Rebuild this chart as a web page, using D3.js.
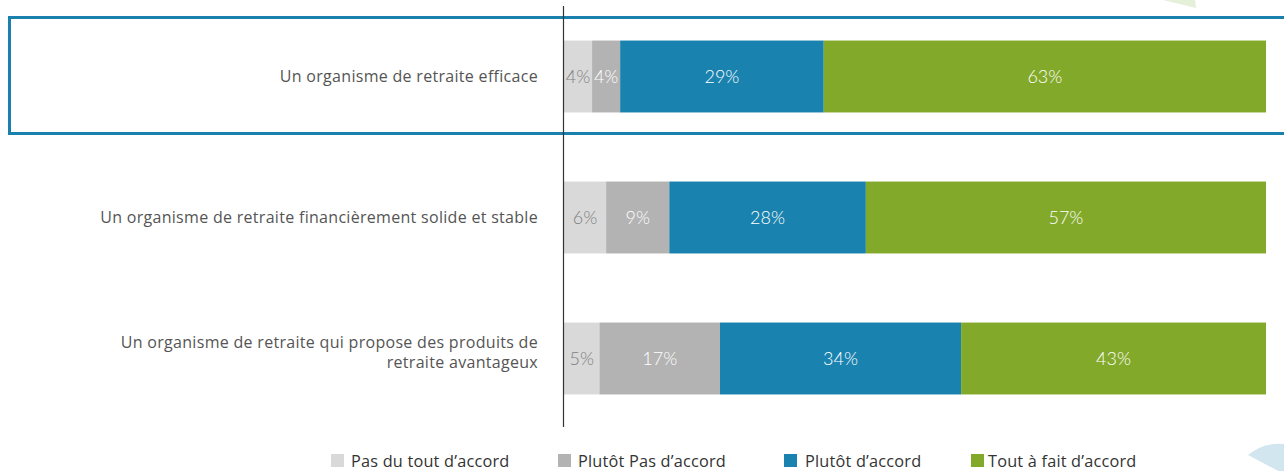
<!DOCTYPE html>
<html>
<head>
<meta charset="utf-8">
<script src="https://cdn.jsdelivr.net/npm/d3@7"></script>
<style>
  body { margin: 0; background: #fff; }
  svg { display: block; }
</style>
</head>
<body>
<div id="chart"></div>
<script>
// categories (top to bottom)
const categories = [
  ['Un organisme de retraite efficace'],
  ['Un organisme de retraite financièrement solide et stable'],
  ['Un organisme de retraite qui propose des produits de', 'retraite avantageux']
];
const keys = ['Pas du tout d’accord', 'Plutôt Pas d’accord', 'Plutôt d’accord', 'Tout à fait d’accord'];
const pasDuTout = [4, 6, 5];
const plutotPas = [4, 9, 17];
const plutot = [29, 28, 34];
const toutAFait = [63, 57, 43];
const colors = ['#d9d9d9', '#b3b3b3', '#1a82ae', '#82a92a'];

const W = 1284, H = 471;
const svg = d3.select('#chart').append('svg')
  .attr('width', W).attr('height', H);

// decorative shapes
svg.append('path').attr('d', 'M1163,0 L1195,0 L1196,8 Z').attr('fill', '#e6efd7');
svg.append('path').attr('d', 'M1248,455 L1284,474 L1284,444 Q1264,442 1248,455 Z').attr('fill', '#d2e6ef');

const rows = categories.map((c, i) => ({
  label: c,
  [keys[0]]: pasDuTout[i],
  [keys[1]]: plutotPas[i],
  [keys[2]]: plutot[i],
  [keys[3]]: toutAFait[i]
}));

const stacked = d3.stack().keys(keys).offset(d3.stackOffsetExpand)(rows);

const x = d3.scaleLinear().domain([0, 1]).range([564, 1266]);
const y = d3.scaleBand().domain(d3.range(rows.length)).range([0, 423]).paddingInner(0.49).paddingOuter(0.245);
const yOff = 6;

// highlight box round first row
svg.append('rect')
  .attr('x', 9.5).attr('y', 17.5)
  .attr('width', W + 10).attr('height', 116)
  .attr('fill', 'none').attr('stroke', '#1a80ad').attr('stroke-width', 3);

const g = svg.append('g').attr('transform', `translate(0,${yOff})`);

stacked.forEach((layer, k) => {
  g.selectAll(null).data(layer).enter().append('rect')
    .attr('x', d => x(d[0]))
    .attr('y', (d, i) => y(i))
    .attr('width', d => x(d[1]) - x(d[0]))
    .attr('height', y.bandwidth())
    .attr('fill', colors[k]);

  g.selectAll(null).data(layer).enter().append('text')
    .attr('x', d => (x(d[0]) + x(d[1])) / 2)
    .attr('y', (d, i) => y(i) + y.bandwidth() / 2)
    .attr('dy', '0.35em')
    .attr('text-anchor', 'middle')
    .style('font-family', 'Lato')
    .style('font-weight', 300)
    .style('font-size', '18px')
    .attr('fill', k === 0 ? '#808080' : '#fff')
    .text(d => d.data[keys[k]] + '%');
});

// category labels (two-line one sits a bit high, as in the original)
rows.forEach((r, i) => {
  const t = g.append('text')
    .attr('text-anchor', 'end')
    .style('font-family', 'Open Sans')
    .style('font-size', '16px')
    .style('letter-spacing', '0.3px')
    .attr('fill', '#555');
  const n = r.label.length;
  const mid = y(i) + y.bandwidth() / 2 - (n > 1 ? 6.5 : 0);
  r.label.forEach((line, j) => {
    t.append('tspan')
      .attr('x', 538)
      .attr('y', mid + (j - (n - 1) / 2) * 20)
      .attr('dy', '0.35em')
      .text(line);
  });
});

// axis line
svg.append('line')
  .attr('x1', 563.5).attr('x2', 563.5)
  .attr('y1', 6).attr('y2', 427)
  .attr('stroke', '#333').attr('stroke-width', 1.2);

// legend
const legendX = [331, 558, 784, 971];
const legend = svg.append('g');
keys.forEach((k, i) => {
  legend.append('rect')
    .attr('x', legendX[i]).attr('y', 454)
    .attr('width', 13).attr('height', 13)
    .attr('fill', colors[i]);
  legend.append('text')
    .attr('x', legendX[i] + (i < 2 ? 20 : i === 2 ? 21 : 17))
    .attr('y', 461).attr('dy', '0.35em')
    .style('font-family', 'Open Sans')
    .style('font-size', '16.3px')
    .style('letter-spacing', '0.2px')
    .attr('fill', '#333')
    .text(k);
});
</script>
</body>
</html>
